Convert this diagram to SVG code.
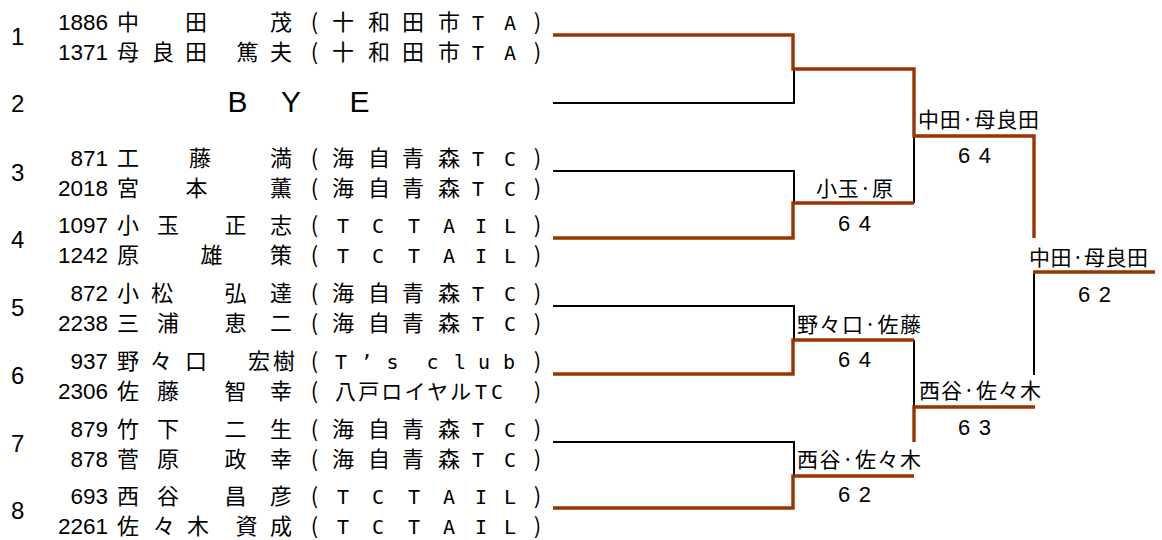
<svg xmlns="http://www.w3.org/2000/svg" width="1162" height="540" viewBox="0 0 1162 540">
<style>
.num{font-family:"Liberation Sans",Arial,sans-serif;font-size:22.5px;text-anchor:end;fill:#000}
.rn{font-family:"Liberation Sans",Arial,sans-serif;font-size:24px;fill:#000}
.jp{font-family:"Noto Sans CJK JP","Noto Sans CJK SC",sans-serif;font-size:22px;text-anchor:middle;fill:#000}
.lat{font-family:"DejaVu Sans Mono",monospace;font-size:20px;text-anchor:middle;fill:#000}
.bye{font-family:"Liberation Sans",Arial,sans-serif;font-size:30px;text-anchor:middle;fill:#000}
.lbl{font-family:"Noto Sans CJK JP","Noto Sans CJK SC",sans-serif;font-size:21px;fill:#000}
.sc{font-family:"Liberation Sans",Arial,sans-serif;font-size:22px;text-anchor:middle;letter-spacing:1.2px;fill:#000}
.w{stroke:#993300;stroke-width:3.4;fill:none;stroke-linejoin:miter}
.l{stroke:#000;stroke-width:2;fill:none}
</style>
<rect width="1162" height="540" fill="#fff"/>
<g id="connectors">
<path class="l" d="M553 103H794V69"/>
<path class="l" d="M553 171H794V203"/>
<path class="l" d="M914 136V203"/>
<path class="l" d="M553 306H794V340"/>
<path class="l" d="M914 340V407"/>
<path class="l" d="M553 442H794V476"/>
<path class="l" d="M1034 272V375"/>
<path class="w" d="M553 35H793V69H914V136H1034V238"/>
<path class="w" d="M553 238H793V203H914"/>
<path class="w" d="M553 374H793V340H914"/>
<path class="w" d="M553 508H793V476H914"/>
<path class="w" d="M914 442V407H1035"/>
<path class="w" d="M1033 272H1155"/>
</g>
<g id="entry1">
<text class="rn" x="11" y="45">1</text>
<text class="num" x="108" y="30">1886</text>
<text class="jp" x="128 196 281" y="30">中田茂</text>
<text y="30"><tspan class="jp" x="314.5 343 379 413 449">(十和田市</tspan><tspan class="lat" x="478 510">TA</tspan><tspan class="jp" x="537.5">)</tspan></text>
<text class="num" x="108" y="60">1371</text>
<text class="jp" x="128 163 196 247.5 281" y="60">母良田篤夫</text>
<text y="60"><tspan class="jp" x="314.5 343 379 413 449">(十和田市</tspan><tspan class="lat" x="478 510">TA</tspan><tspan class="jp" x="537.5">)</tspan></text>
</g>
<g id="entry2">
<text class="rn" x="11" y="112">2</text>
<text class="bye" x="237.5 291 359.5" y="112">BYE</text>
</g>
<g id="entry3">
<text class="rn" x="11" y="181">3</text>
<text class="num" x="108" y="166">871</text>
<text class="jp" x="128 200 281" y="166">工藤満</text>
<text y="166"><tspan class="jp" x="314.5 343 379 413 449">(海自青森</tspan><tspan class="lat" x="478 510">TC</tspan><tspan class="jp" x="537.5">)</tspan></text>
<text class="num" x="108" y="196">2018</text>
<text class="jp" x="128 196.5 281" y="196">宮本薫</text>
<text y="196"><tspan class="jp" x="314.5 343 379 413 449">(海自青森</tspan><tspan class="lat" x="478 510">TC</tspan><tspan class="jp" x="537.5">)</tspan></text>
</g>
<g id="entry4">
<text class="rn" x="11" y="248">4</text>
<text class="num" x="108" y="233">1097</text>
<text class="jp" x="128 168 235.5 281" y="233">小玉正志</text>
<text y="233"><tspan class="jp" x="314.5">(</tspan><tspan class="lat" x="343 378 414 449 481 510">TCTAIL</tspan><tspan class="jp" x="537.5">)</tspan></text>
<text class="num" x="108" y="263">1242</text>
<text class="jp" x="128 211.5 281" y="263">原雄策</text>
<text y="263"><tspan class="jp" x="314.5">(</tspan><tspan class="lat" x="343 378 414 449 481 510">TCTAIL</tspan><tspan class="jp" x="537.5">)</tspan></text>
</g>
<g id="entry5">
<text class="rn" x="11" y="316">5</text>
<text class="num" x="108" y="301">872</text>
<text class="jp" x="128 162 235.5 281" y="301">小松弘達</text>
<text y="301"><tspan class="jp" x="314.5 343 379 413 449">(海自青森</tspan><tspan class="lat" x="478 510">TC</tspan><tspan class="jp" x="537.5">)</tspan></text>
<text class="num" x="108" y="331">2238</text>
<text class="jp" x="128 168 235.5 281" y="331">三浦恵二</text>
<text y="331"><tspan class="jp" x="314.5 343 379 413 449">(海自青森</tspan><tspan class="lat" x="478 510">TC</tspan><tspan class="jp" x="537.5">)</tspan></text>
</g>
<g id="entry6">
<text class="rn" x="11" y="384">6</text>
<text class="num" x="108" y="369">937</text>
<text class="jp" x="128 161 196 259 284" y="369">野々口宏樹</text>
<text y="369"><tspan class="jp" x="314.5">(</tspan><tspan class="lat" x="341 366.5 392.5 432.5 460 484 509">T’sclub</tspan><tspan class="jp" x="537.5">)</tspan></text>
<text class="num" x="108" y="399">2306</text>
<text class="jp" x="128 168 235.5 281" y="399">佐藤智幸</text>
<text y="399"><tspan class="jp" x="314.5">(</tspan><tspan class="lbl" x="335" textLength="136" lengthAdjust="spacing">八戸ロイヤル</tspan><tspan class="lat" x="481 497">TC</tspan><tspan class="jp" x="537.5">)</tspan></text>
</g>
<g id="entry7">
<text class="rn" x="11" y="452">7</text>
<text class="num" x="108" y="437">879</text>
<text class="jp" x="128 168 235.5 281" y="437">竹下二生</text>
<text y="437"><tspan class="jp" x="314.5 343 379 413 449">(海自青森</tspan><tspan class="lat" x="478 510">TC</tspan><tspan class="jp" x="537.5">)</tspan></text>
<text class="num" x="108" y="467">878</text>
<text class="jp" x="128 168 235.5 281" y="467">菅原政幸</text>
<text y="467"><tspan class="jp" x="314.5 343 379 413 449">(海自青森</tspan><tspan class="lat" x="478 510">TC</tspan><tspan class="jp" x="537.5">)</tspan></text>
</g>
<g id="entry8">
<text class="rn" x="11" y="519">8</text>
<text class="num" x="108" y="504">693</text>
<text class="jp" x="128 168 235.5 281" y="504">西谷昌彦</text>
<text y="504"><tspan class="jp" x="314.5">(</tspan><tspan class="lat" x="343 378 414 449 481 510">TCTAIL</tspan><tspan class="jp" x="537.5">)</tspan></text>
<text class="num" x="108" y="534">2261</text>
<text class="jp" x="128 164 198 246.5 281" y="534">佐々木資成</text>
<text y="534"><tspan class="jp" x="314.5">(</tspan><tspan class="lat" x="343 378 414 449 481 510">TCTAIL</tspan><tspan class="jp" x="537.5">)</tspan></text>
</g>
<g id="result-r1-m2">
<text class="lbl" x="816" y="195.5" textLength="77" lengthAdjust="spacing">小玉·原</text>
<text class="sc" x="855" y="231">6 4</text>
</g>
<g id="result-r1-m3">
<text class="lbl" x="797" y="331.5" textLength="124" lengthAdjust="spacing">野々口·佐藤</text>
<text class="sc" x="855" y="367">6 4</text>
</g>
<g id="result-r1-m4">
<text class="lbl" x="797" y="466.5" textLength="124" lengthAdjust="spacing">西谷·佐々木</text>
<text class="sc" x="855" y="502">6 2</text>
</g>
<g id="result-r2-m1">
<text class="lbl" x="918" y="126.5" textLength="121" lengthAdjust="spacing">中田·母良田</text>
<text class="sc" x="975" y="163">6 4</text>
</g>
<g id="result-r2-m2">
<text class="lbl" x="919" y="398" textLength="122" lengthAdjust="spacing">西谷·佐々木</text>
<text class="sc" x="975" y="435">6 3</text>
</g>
<g id="result-final">
<text class="lbl" x="1029" y="265" textLength="119" lengthAdjust="spacing">中田·母良田</text>
<text class="sc" x="1095" y="302">6 2</text>
</g>
</svg>
